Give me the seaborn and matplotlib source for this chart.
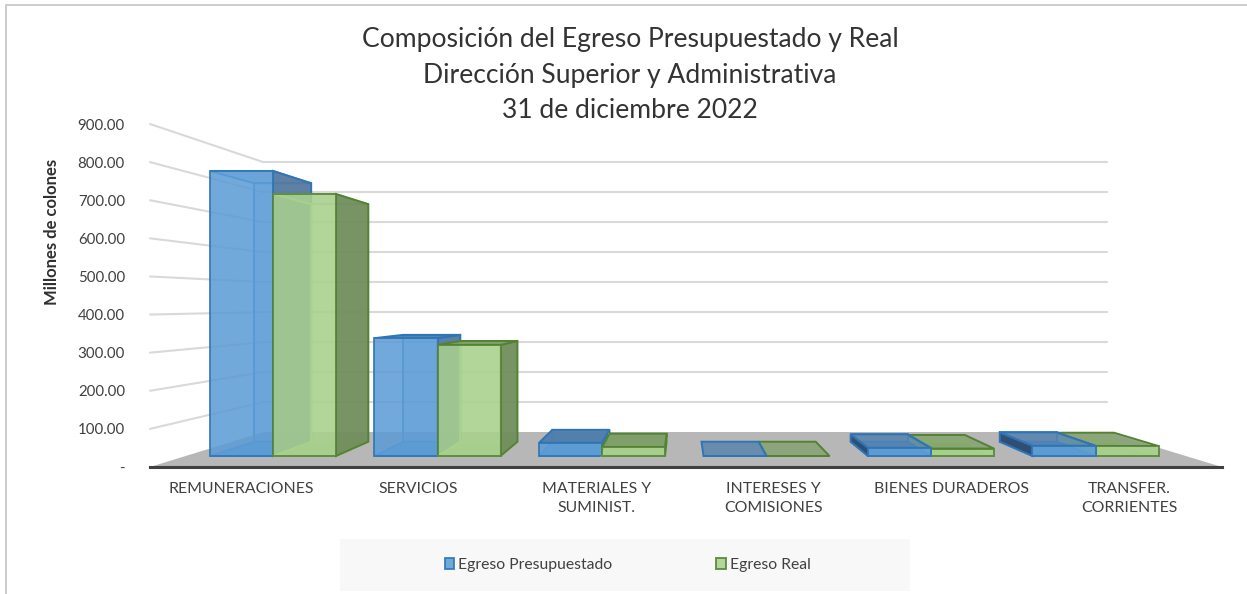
import matplotlib
matplotlib.use("Agg")
import matplotlib.pyplot as plt
from matplotlib.patches import Polygon, Rectangle, Patch
from matplotlib.lines import Line2D
from matplotlib.colors import to_rgba
import pandas as pd
import seaborn as sns

categories = ["REMUNERACIONES", "SERVICIOS", "MATERIALES Y\nSUMINIST.",
              "INTERESES Y\nCOMISIONES", "BIENES DURADEROS", "TRANSFER.\nCORRIENTES"]
presupuestado = [803, 332, 37, 0, 23, 29]
real = [738, 313, 25, 0, 21, 28]
series_names = ["Egreso Presupuestado", "Egreso Real"]
y_ticks = [0, 100, 200, 300, 400, 500, 600, 700, 800, 900]
y_labels = ["-", "100.00", "200.00", "300.00", "400.00", "500.00", "600.00", "700.00", "800.00", "900.00"]
title = "Composición del Egreso Presupuestado y Real\nDirección Superior y Administrativa\n31 de diciembre 2022"

W, H = 1247, 594
sns.set_theme(style="white")
FONT = ["Lato", "DejaVu Sans"]
plt.rcParams["font.family"] = FONT

fig = plt.figure(figsize=(W / 100, H / 100), dpi=100, facecolor="white")

def rect(l, t, r, b):
    return [l / W, 1 - b / H, (r - l) / W, (b - t) / H]

# pixel overlay for the perspective scene
pax = fig.add_axes([0, 0, 1, 1], zorder=0)
pax.set_xlim(0, W); pax.set_ylim(H, 0); pax.axis("off")

VX, VY = 682, 303
FLOOR_K = 0.2134
BAR_K = 0.0934

def proj(x, y, k):
    return x + k * (VX - x), y + k * (VY - y)

# frame and legend band
pax.add_line(Line2D([6, W], [5, 5], color="#cccccc", lw=1.4))
pax.add_line(Line2D([6, 6], [5, H], color="#cccccc", lw=1.4))
pax.add_patch(Rectangle((340, 539), 570, 52, fc="#f8f8f8", ec="none"))

# floor
L, R, Y0, Y900 = 150, 1222, 467, 124
pax.add_patch(Polygon([(L, Y0), (R, Y0), proj(R, Y0, FLOOR_K), proj(L, Y0, FLOOR_K)],
                      fc="#b7b7b7", ec="none", zorder=1))

# wall axes: value scale of the front plane of the chart
wall = fig.add_axes(rect(L, Y900, R, Y0), zorder=0.5)
wall.patch.set_visible(False)
wall.set_ylim(0, 900); wall.set_xlim(L, R)
wall.set_yticks(y_ticks, y_labels, fontsize=10.8, color="#404040")
wall.set_xticks([])
wall.tick_params(axis="y", length=0, pad=18)
for s in wall.spines.values():
    s.set_visible(False)
wall.text(52, 232, "Millones de colones", transform=pax.transData, rotation=90, ha="center", va="center",
          fontsize=12.0, fontweight="bold", color="#303030")

for v in y_ticks:
    yf = Y0 + (Y900 - Y0) * v / 900
    bx, by = proj(L, yf, FLOOR_K)
    if v > 0:
        pax.add_line(Line2D([L, bx], [yf, by], color="#d9d9d9", lw=1.5, zorder=2))
        ex, _ = proj(R, yf, FLOOR_K)
        pax.add_line(Line2D([bx, ex], [by, by], color="#d9d9d9", lw=1.5, zorder=2))

# bars
df = pd.DataFrame({"categoria": categories, series_names[0]: presupuestado, series_names[1]: real})
long_df = df.melt(id_vars="categoria", var_name="serie", value_name="valor")

CAT0, CAT_STEP, BASE, PX100 = 273, 164.5, 456, 35.5
ax = fig.add_axes(rect(L, Y900, R, Y0), zorder=1)
ax.patch.set_visible(False)
styles = [
    dict(front="#5B9BD5", edge="#2E75B6", top="#4f7dab", side_r="#55789f", side_l="#2d4a6e",
         bottom="#5b95d0", inner="#4d94d6"),
    dict(front="#A9D18E", edge="#548235", top="#7f9e68", side_r="#6f8c5a", side_l="#7f9e68",
         bottom="#9cc682", inner="#a3d387"),
]
sns.barplot(data=long_df, x="categoria", y="valor", hue="serie", order=categories,
            hue_order=series_names, palette=[styles[0]["front"], styles[1]["front"]],
            width=0.766, gap=0, dodge=True, saturation=1, errorbar=None, legend=False, ax=ax)
ax.set_xlim((L - CAT0) / CAT_STEP, (R - CAT0) / CAT_STEP)
ax.set_ylim((BASE - Y0) / PX100 * 100, (BASE - Y900) / PX100 * 100)
ax.set_xlabel(""); ax.set_ylabel("")
ax.set_yticks([])
# category labels sit on the front edge of the floor, spaced wider than the bars
label_px = [241 + 177.6 * i for i in range(len(categories))]
ax.set_xticks([(p - CAT0) / CAT_STEP for p in label_px], categories)
ax.tick_params(axis="x", length=0, pad=11, labelsize=11.4, labelcolor="#404040")
for lab in ax.get_xticklabels():
    lab.set_linespacing(1.46)
for n, s in ax.spines.items():
    s.set_visible(n == "bottom")
ax.spines["bottom"].set_color("#404040")
ax.spines["bottom"].set_linewidth(2.2)

def to_px(x, y):
    return CAT0 + CAT_STEP * x, BASE - y * PX100 / 100

def face(pts, fc, ec, alpha, z, lw=1.4):
    ax.add_patch(Polygon(pts, closed=True, fc=to_rgba(fc, alpha), ec=ec, lw=lw,
                         transform=pax.transData, clip_on=False, zorder=z, joinstyle="miter"))

for si, cont in enumerate(ax.containers):
    st = styles[si]
    for bar in cont:
        x0, x1 = bar.get_x(), bar.get_x() + bar.get_width()
        h = bar.get_height()
        xl, yb = to_px(x0, 0)
        xr, yt = to_px(x1, h)
        # on the right of the vanishing point the first series overlaps the second
        order = si if bar.get_x() + bar.get_width() < (VX - CAT0) / CAT_STEP + 0.1 else 1 - si
        z = 3 + order * 2
        fl_b, fr_b, fr_t, fl_t = (xl, yb), (xr, yb), (xr, yt), (xl, yt)
        bl_b, br_b, br_t, bl_t = [proj(*p, BAR_K) for p in (fl_b, fr_b, fr_t, fl_t)]
        if h > 0:
            face([bl_b, br_b, br_t, bl_t], st["front"], st["inner"], 0.25, z)
            face([fl_b, fr_b, br_b, bl_b], st["bottom"], st["inner"], 0.8, z)
            if xr < VX:
                face([fr_b, br_b, br_t, fr_t], st["side_r"], st["edge"], 0.92, z + 0.2)
            if xl > VX and si == 0:
                face([fl_b, bl_b, bl_t, fl_t], st["side_l"], st["edge"], 0.95, z + 0.2)
        # a top above eye level is seen from below, through the bar
        if yt > VY:
            face([fl_t, fr_t, br_t, bl_t], st["top"], st["edge"], 0.75 if xl > VX else 0.95, z + 0.3)
        else:
            face([fl_t, fr_t, br_t, bl_t], st["front"], st["inner"], 0.3, z + 0.1)
        bar.set_alpha(0.86)
        bar.set_edgecolor(st["edge"])
        bar.set_linewidth(1.4)
        bar.set_zorder(z + 0.5)

# title
fig.text(630 / W, 1 - 75 / H, title, ha="center", va="center", fontsize=19.1,
         color="#333333", linespacing=1.55)

# legend
handles = [Patch(fc=styles[i]["front"], ec=styles[i]["edge"], lw=1.4, alpha=0.86) for i in range(2)]
leg = pax.legend(handles, series_names, loc="center", bbox_to_anchor=(627.5 / W, 1 - 565 / H),
                 bbox_transform=fig.transFigure, ncol=2, frameon=False, fontsize=11.3,
                 handlelength=0.62, handleheight=0.62, handletextpad=0.25, columnspacing=6.6)
for t in leg.get_texts():
    t.set_color("#404040")

fig.savefig("out.png", dpi=100)
